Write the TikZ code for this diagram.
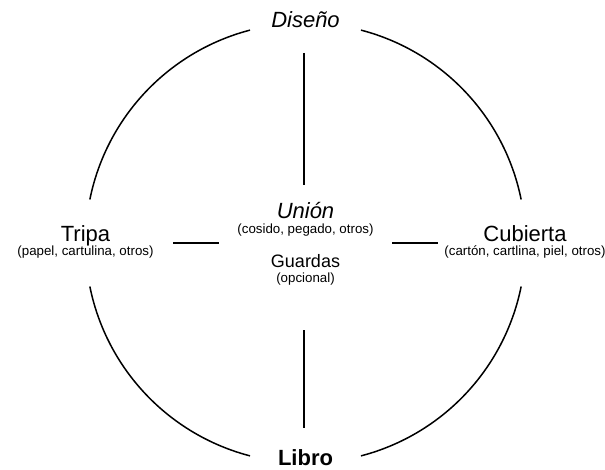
\documentclass[tikz,border=0pt]{standalone}
\usepackage{fontspec}
\setmainfont{Liberation Sans}
\begin{document}
\begin{tikzpicture}[x=1pt,y=-1pt,
  big/.style={font=\fontsize{22}{25}\selectfont, anchor=base, inner sep=0pt},
  mid/.style={font=\fontsize{18}{21}\selectfont, anchor=base, inner sep=0pt},
  note/.style={font=\fontsize{13.3}{15}\selectfont, anchor=base, inner sep=0pt},
  rim/.style={line width=1.5pt},
  spoke/.style={line width=1.5pt}]
\useasboundingbox (0,0) rectangle (605,470);

% labels
\node[big] (diseno) at (305.5,28) {\itshape Diseño};
\node[big] (libro) at (305.5,465.5) {\bfseries Libro};
\node[big] (tripa) at (85.5,242) {Tripa};
\node[note] (tripanote) at (85.5,256) {(papel, cartulina, otros)};
\node[big] (cubierta) at (525,242) {Cubierta};
\node[note] (cubiertanote) at (525,256) {(cartón, cartlina, piel, otros)};
\node[big] (union) at (305.5,219) {\itshape Unión};
\node[note] (unionnote) at (305.5,234) {(cosido, pegado, otros)};
\node[mid] (guardas) at (305.5,268) {Guardas};
\node[note] (guardasnote) at (305.5,283) {(opcional)};

% outer circle, broken at the four labels
\coordinate (hub) at (305.5,243);
\draw[rim] (hub) ++(11.4:220)  arc[start angle=11.4,  end angle=75.4,  radius=220];
\draw[rim] (hub) ++(104.6:220) arc[start angle=104.6, end angle=168.6, radius=220];
\draw[rim] (hub) ++(191.4:220) arc[start angle=191.4, end angle=255.4, radius=220];
\draw[rim] (hub) ++(284.6:220) arc[start angle=284.6, end angle=348.6, radius=220];

% spokes towards the centre
\coordinate (topA) at (304,53);
\coordinate (topB) at (304,185);
\coordinate (botA) at (304,330);
\coordinate (botB) at (304,428);
\coordinate (leftA) at (173,243);
\coordinate (leftB) at (219,243);
\coordinate (rightA) at (392,243);
\coordinate (rightB) at (438,243);
\draw[spoke] (topA) -- (topB);
\draw[spoke] (botA) -- (botB);
\draw[spoke] (leftA) -- (leftB);
\draw[spoke] (rightA) -- (rightB);
\end{tikzpicture}
\end{document}
